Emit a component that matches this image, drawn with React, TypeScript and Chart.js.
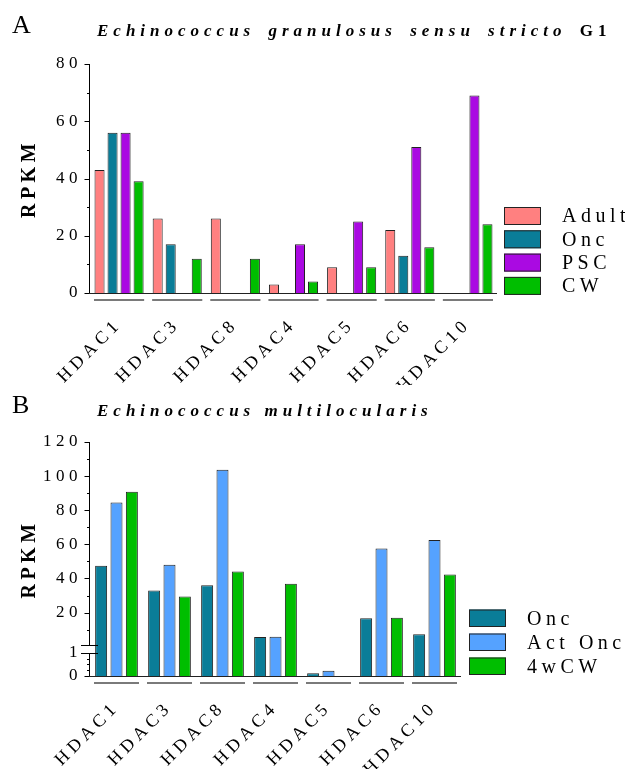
import React, { useEffect, useRef } from 'react';
import { Chart, registerables, LinearScale } from 'chart.js';

Chart.register(...registerables);

const FONT = "'Liberation Serif', 'Times New Roman', serif";

// ---------- data ----------
const categories = ['HDAC1', 'HDAC3', 'HDAC8', 'HDAC4', 'HDAC5', 'HDAC6', 'HDAC10'];

// Panel A: Echinococcus granulosus s.s. G1
const gAdult = [43, 26, 26, 3, 9, 22, 0];
const gOnc = [56, 17, 0, 0, 0, 13, 0];
const gPSC = [56, 0, 0, 17, 25, 51, 69];
const gCW = [39, 12, 12, 4, 9, 16, 24];
const aTickValues = [0, 10, 20, 30, 40, 50, 60, 70, 80];
const aTickLabels = ['0', '', '20', '', '40', '', '60', '', '80'];

// Panel B: Echinococcus multilocularis
const mOnc = [47.5, 33, 36, 5.7, 0.12, 16.7, 7.3];
const mActOnc = [84.5, 48, 103.8, 5.9, 0.23, 57.6, 62.6];
const m4wCW = [90.8, 29.4, 44.1, 36.9, 0, 17, 42.4];
const bTickValues = [0, 0.25, 0.5, 0.75, 1, 10, 20, 30, 40, 50, 60, 70, 80, 90, 100, 110, 120];
const bTickLabels = ['0', '', '', '', '1', '', '20', '', '40', '', '60', '', '80', '', '100', '', '120'];
const bBreak = 1;

const aLegend = ['Adult', 'Onc', 'PSC', 'CW'];
const bLegend = ['Onc', 'Act Onc', '4wCW'];

const C_ADULT = '#FF8080';
const C_ONC = '#0A7D98';
const C_PSC = '#AA0AE2';
const C_CW = '#00BE00';
const C_ACT = '#55A2FF';

// ---------- broken y scale ----------
const B_LOW_PX = 23.3;
const B_GAP_PX = 7.7;

class BrokenLinearScale extends LinearScale {
  static id = 'brokenLinear';
  static defaults = {};
  buildTicks() {
    return bTickValues.map((value) => ({ value }));
  }
  getPixelForValue(value: number) {
    const top = this.top;
    const bottom = this.bottom;
    if (value <= bBreak) return bottom - (value / bBreak) * B_LOW_PX;
    const topH = bottom - top - B_LOW_PX - B_GAP_PX;
    return bottom - B_LOW_PX - B_GAP_PX - ((value - bBreak) / (this.max - bBreak)) * topH;
  }
  getValueForPixel(pixel: number) {
    const top = this.top;
    const bottom = this.bottom;
    const d = bottom - pixel;
    if (d <= B_LOW_PX) return (d / B_LOW_PX) * bBreak;
    const topH = bottom - top - B_LOW_PX - B_GAP_PX;
    return bBreak + ((d - B_LOW_PX - B_GAP_PX) / topH) * (this.max - bBreak);
  }
}
Chart.register(BrokenLinearScale as any);

// ---------- plugins ----------
const spacing = (ls: string) => ({
  id: 'letterSpacing',
  beforeUpdate(chart: any) { chart.ctx.letterSpacing = ls; },
  beforeLayout(chart: any) { chart.ctx.letterSpacing = ls; },
  beforeDraw(chart: any) { chart.ctx.letterSpacing = ls; },
});

const axesPlugin = (majors: number[], broken: boolean) => ({
  id: 'axesDraw',
  afterDatasetsDraw(chart: any) {
    const ctx = chart.ctx;
    const { left, right, top, bottom } = chart.chartArea;
    const ys = chart.scales.y;
    const xs = chart.scales.x;
    const ax = left - 0.5;
    ctx.save();
    ctx.strokeStyle = '#000';
    ctx.lineWidth = 1;
    ctx.beginPath();
    if (broken) {
      const lowTop = ys.getPixelForValue(bBreak);
      const hiBot = ys.getPixelForValue(bBreak + 1e-9);
      ctx.moveTo(ax, bottom + 1);
      ctx.lineTo(ax, Math.round(lowTop) + 0.5);
      ctx.moveTo(ax, Math.round(hiBot) + 0.5);
      ctx.lineTo(ax, top);
      ctx.moveTo(ax - 8.5, Math.round(lowTop) + 0.5);
      ctx.lineTo(ax + 8.5, Math.round(lowTop) + 0.5);
      ctx.moveTo(ax - 8.5, Math.round(hiBot) + 0.5);
      ctx.lineTo(ax + 8.5, Math.round(hiBot) + 0.5);
    } else {
      ctx.moveTo(ax, bottom + 1);
      ctx.lineTo(ax, top);
    }
    ys.ticks.forEach((t: any) => {
      const py = Math.round(ys.getPixelForValue(t.value)) + 0.5;
      const major = majors.includes(t.value);
      ctx.moveTo(ax - (major ? 5 : 2.5), py);
      ctx.lineTo(ax, py);
    });
    ctx.stroke();
    ctx.beginPath();
    ctx.strokeStyle = '#222';
    ctx.moveTo(left - 1, bottom + 0.5);
    ctx.lineTo(right, bottom + 0.5);
    ctx.stroke();
    const n = chart.data.labels.length;
    const band = (right - left) / n;
    ctx.beginPath();
    ctx.strokeStyle = '#7a7a7a';
    ctx.lineWidth = 2;
    for (let i = 0; i < n; i++) {
      const cx = xs.getPixelForValue(i);
      ctx.moveTo(cx - band / 2 + 4, bottom + 7);
      ctx.lineTo(cx + band / 2 - 4, bottom + 7);
    }
    ctx.stroke();
    ctx.restore();
  },
});

const legendPlugin = (cfg: { x: number; y: number; w: number; h: number; pitch: number; tx: number; size: number }) => ({
  id: 'customLegend',
  afterDraw(chart: any) {
    const ctx = chart.ctx;
    ctx.save();
    ctx.letterSpacing = '4.5px';
    ctx.font = `${cfg.size}px ${FONT}`;
    ctx.textBaseline = 'middle';
    ctx.textAlign = 'left';
    chart.data.datasets.forEach((ds: any, i: number) => {
      const y = cfg.y + i * cfg.pitch;
      ctx.fillStyle = ds.backgroundColor;
      ctx.fillRect(cfg.x, y, cfg.w, cfg.h);
      ctx.strokeStyle = '#222';
      ctx.lineWidth = 1;
      ctx.strokeRect(cfg.x + 0.5, y + 0.5, cfg.w - 1, cfg.h - 1);
      ctx.fillStyle = '#000';
      ctx.fillText(ds.label, cfg.tx, y + cfg.h / 2 + 1);
    });
    ctx.restore();
  },
});

function makeDataset(label: string, data: number[], color: string, catPct: number, barPct: number) {
  return {
    label,
    data,
    backgroundColor: color,
    borderColor: '#222',
    borderWidth: 1,
    categoryPercentage: catPct,
    barPercentage: barPct,
  };
}

function baseOptions(opts: {
  padRight: number; padTop: number; padBottom: number; xHeight: number; yWidth: number; yScale: any; tickLabels: string[]; tickValues: number[];
}) {
  return {
    animation: false,
    responsive: false,
    devicePixelRatio: 1,
    layout: { padding: { left: 0, right: opts.padRight, top: opts.padTop, bottom: opts.padBottom } },
    plugins: { legend: { display: false }, tooltip: { enabled: false }, title: { display: false } },
    scales: {
      x: {
        grid: { display: false, drawTicks: false },
        border: { display: false },
        ticks: {
          autoSkip: false,
          maxRotation: 45,
          minRotation: 45,
          padding: 21,
          color: '#000',
          font: { family: FONT, size: 18 },
        },
        afterFit: (s: any) => { s.height = opts.xHeight; },
      },
      y: {
        ...opts.yScale,
        grid: { display: false, drawTicks: false },
        border: { display: false },
        ticks: {
          autoSkip: false,
          padding: 8,
          color: '#000',
          font: { family: FONT, size: 17 },
          callback: (v: number) => {
            const idx = opts.tickValues.indexOf(v);
            return idx >= 0 ? opts.tickLabels[idx] : '';
          },
          ...(opts.yScale.ticks || {}),
        },
        title: {
          display: true,
          text: 'RPKM',
          color: '#000',
          font: { family: FONT, size: 20, weight: 'bold' },
          padding: { top: 18, bottom: 0 },
        },
        afterFit: (s: any) => { s.width = opts.yWidth; },
      },
    },
  };
}

function ChartA() {
  const ref = useRef<HTMLCanvasElement | null>(null);
  useEffect(() => {
    if (!ref.current) return;
    const cat = 0.896, bar = 0.77;
    const chart = new Chart(ref.current, {
      type: 'bar',
      data: {
        labels: categories,
        datasets: [
          makeDataset(aLegend[0], gAdult, C_ADULT, cat, bar),
          makeDataset(aLegend[1], gOnc, C_ONC, cat, bar),
          makeDataset(aLegend[2], gPSC, C_PSC, cat, bar),
          makeDataset(aLegend[3], gCW, C_CW, cat, bar),
        ],
      },
      options: baseOptions({
        padRight: 128, padTop: 64, padBottom: 10, xHeight: 92, yWidth: 90,
        yScale: { type: 'linear', min: 0, max: 80, ticks: { stepSize: 10 } },
        tickLabels: aTickLabels, tickValues: aTickValues,
      }) as any,
      plugins: [
        spacing('4.5px'),
        axesPlugin([0, 20, 40, 60, 80], false),
        legendPlugin({ x: 504, y: 207, w: 37, h: 18, pitch: 23.3, tx: 562, size: 20 }),
      ],
    });
    return () => chart.destroy();
  }, []);
  return <canvas ref={ref} width={625} height={395} style={{ position: 'absolute', left: 0, top: 0, width: 625, height: 395 }} />;
}

function ChartB() {
  const ref = useRef<HTMLCanvasElement | null>(null);
  useEffect(() => {
    if (!ref.current) return;
    const cat = 0.87, bar = 0.78;
    const chart = new Chart(ref.current, {
      type: 'bar',
      data: {
        labels: categories,
        datasets: [
          makeDataset(bLegend[0], mOnc, C_ONC, cat, bar),
          makeDataset(bLegend[1], mActOnc, C_ACT, cat, bar),
          makeDataset(bLegend[2], m4wCW, C_CW, cat, bar),
        ],
      },
      options: baseOptions({
        padRight: 164, padTop: 57, padBottom: 0, xHeight: 93, yWidth: 90,
        yScale: { type: 'brokenLinear', min: 0, max: 120 },
        tickLabels: bTickLabels, tickValues: bTickValues,
      }) as any,
      plugins: [
        spacing('4.5px'),
        axesPlugin([0, 1, 20, 40, 60, 80, 100, 120], true),
        legendPlugin({ x: 469, y: 224.5, w: 37, h: 17.5, pitch: 24, tx: 527, size: 20 }),
      ],
    });
    return () => chart.destroy();
  }, []);
  return <canvas ref={ref} width={625} height={384} style={{ position: 'absolute', left: 0, top: 385, width: 625, height: 384 }} />;
}

const panelLetter: React.CSSProperties = {
  position: 'absolute', fontFamily: FONT, fontSize: 26, lineHeight: '26px', color: '#000', margin: 0,
};
const titleStyle: React.CSSProperties = {
  position: 'absolute', fontFamily: FONT, fontSize: 17, lineHeight: '17px', fontWeight: 'bold', letterSpacing: '5px',
  whiteSpace: 'nowrap', color: '#000',
};

export default function App() {
  return (
    <div style={{ position: 'absolute', left: 0, top: 0, width: 625, height: 769, background: '#fff', overflow: 'hidden' }}>
      <ChartA />
      <ChartB />
      <div style={{ ...panelLetter, left: 12, top: 11.5 }}>A</div>
      <div style={{ ...titleStyle, left: 97, top: 22, wordSpacing: '4px' }}>
        <i>Echinococcus granulosus sensu stricto</i> G1
      </div>
      <div style={{ ...panelLetter, left: 12, top: 391.5 }}>B</div>
      <div style={{ ...titleStyle, left: 97, top: 402 }}>
        <i>Echinococcus multilocularis</i>
      </div>
    </div>
  );
}
